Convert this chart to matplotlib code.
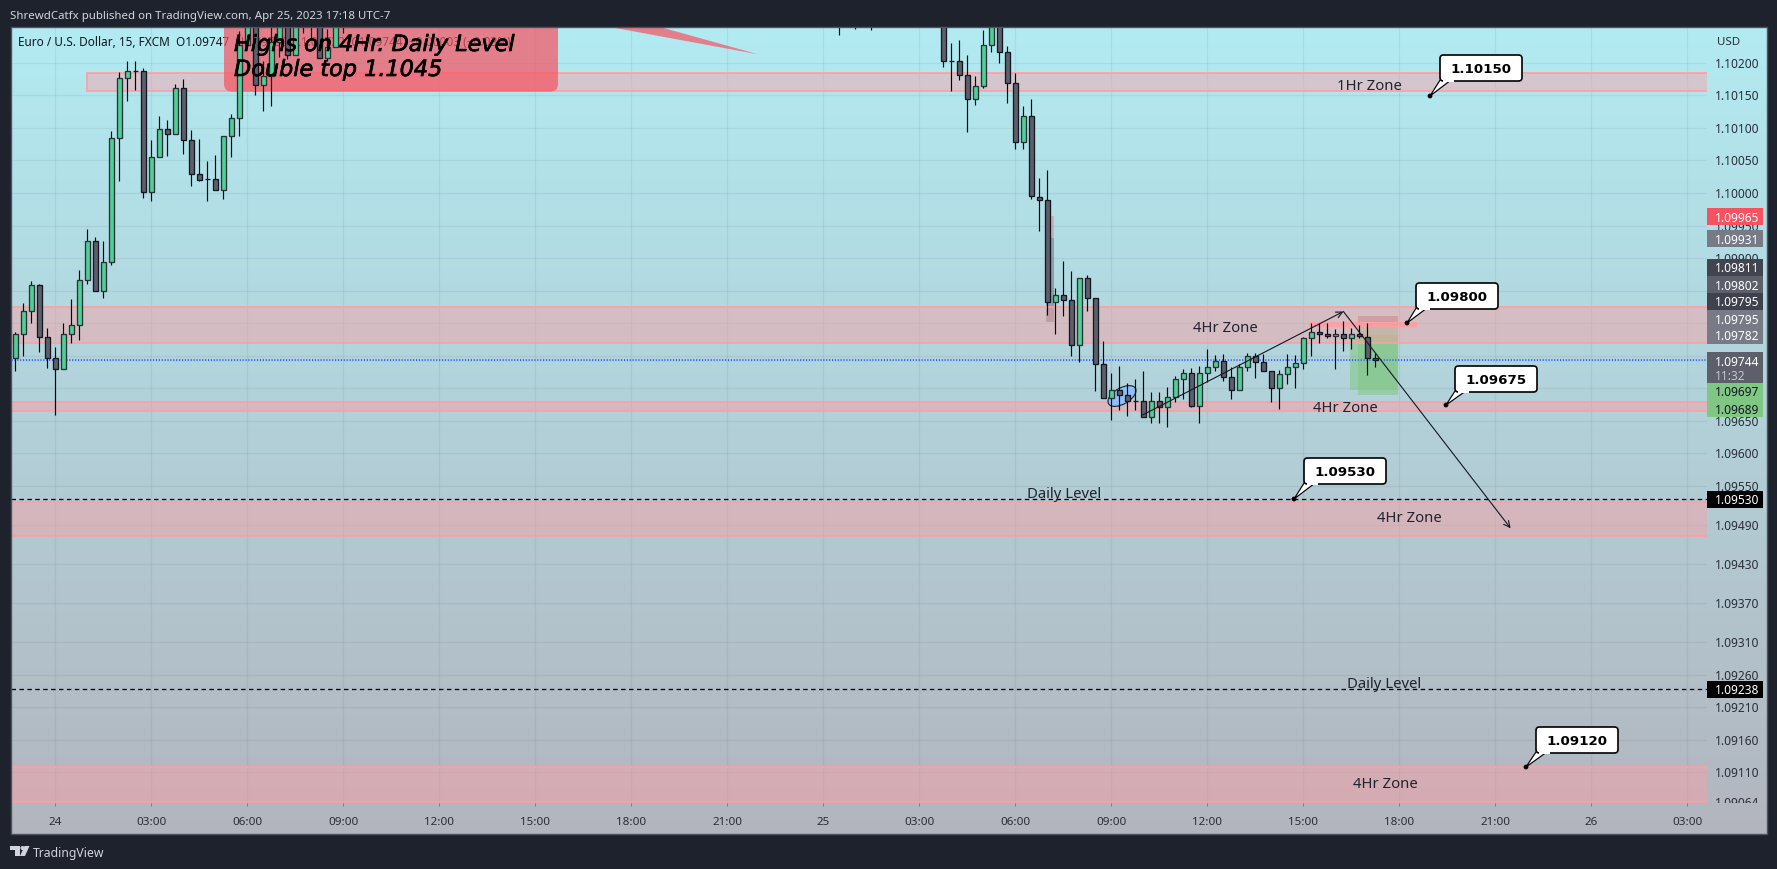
import numpy as np
import matplotlib
matplotlib.use("Agg")
import matplotlib.pyplot as plt
import matplotlib.patheffects as pe
from matplotlib.patches import Rectangle, FancyBboxPatch, Ellipse, Polygon, Circle
from matplotlib.transforms import Affine2D, Bbox

W, H = 1777, 869
plt.rcParams['font.family'] = ['Noto Sans', 'DejaVu Sans']

# ---------- data ----------
bar_index = list(range(-5, 37)) + [98, 100, 102] + list(range(111, 166))
opens = [1.09746,1.09783,1.09818,1.09858,1.09779,1.09747,1.09729,1.09784,1.09797,1.09867,
         1.09926,1.09850,1.09894,1.10084,1.10176,1.10188,1.10188,1.10001,1.10056,1.10099,
         1.10091,1.10162,1.10082,1.10029,1.10021,1.10021,1.10004,1.10087,1.10115,1.10228,
         1.10270,1.10166,1.10179,1.10232,1.10270,1.10212,1.10300,1.10270,1.10290,1.10208,
         1.10225,1.10270,
         1.10300,1.10300,1.10300,
         1.10300,1.10203,1.10203,1.10181,1.10145,1.10165,1.10228,1.10270,1.10216,1.10169,
         1.10078,1.10118,1.09994,1.09989,1.09833,1.09843,1.09835,1.09766,1.09869,1.09838,
         1.09737,1.09685,1.09698,1.09690,1.09680,1.09680,1.09656,1.09680,1.09672,1.09686,
         1.09714,1.09724,1.09673,1.09723,1.09733,1.09742,1.09717,1.09697,1.09732,1.09749,
         1.09740,1.09726,1.09700,1.09722,1.09732,1.09739,1.09777,1.09786,1.09784,1.09781,
         1.09784,1.09777,1.09783,1.09779,1.09747]
highs = [1.09786,1.09831,1.09865,1.09860,1.09792,1.09763,1.09801,1.09837,1.09882,1.09945,
         1.09932,1.09926,1.10095,1.10186,1.10203,1.10203,1.10192,1.10081,1.10119,1.10112,
         1.10168,1.10175,1.10097,1.10083,1.10049,1.10058,1.10087,1.10121,1.10249,1.10290,
         1.10290,1.10202,1.10270,1.10290,1.10290,1.10290,1.10310,1.10310,1.10310,1.10252,
         1.10290,1.10310,
         1.10330,1.10330,1.10330,
         1.10330,1.10231,1.10235,1.10212,1.10180,1.10250,1.10290,1.10290,1.10226,1.10185,
         1.10134,1.10145,1.10023,1.10035,1.09854,1.09896,1.09880,1.09869,1.09874,1.09839,
         1.09773,1.09723,1.09734,1.09708,1.09715,1.09727,1.09694,1.09694,1.09702,1.09719,
         1.09729,1.09731,1.09734,1.09760,1.09751,1.09752,1.09732,1.09738,1.09754,1.09754,
         1.09753,1.09727,1.09728,1.09753,1.09751,1.09779,1.09801,1.09800,1.09801,1.09791,
         1.09803,1.09792,1.09798,1.09800,1.09754]
lows = [1.09726,1.09750,1.09801,1.09756,1.09731,1.09659,1.09729,1.09769,1.09774,1.09860,
        1.09850,1.09838,1.09889,1.10018,1.10141,1.10158,1.09992,1.09988,1.10055,1.10057,
        1.10091,1.10060,1.10010,1.10019,1.09988,1.10004,1.09991,1.10056,1.10088,1.10226,
        1.10151,1.10126,1.10133,1.10209,1.10206,1.10212,1.10246,1.10238,1.10207,1.10203,
        1.10224,1.10246,
        1.10243,1.10252,1.10250,
        1.10194,1.10157,1.10174,1.10094,1.10135,1.10162,1.10216,1.10200,1.10139,1.10067,
        1.10068,1.09991,1.09942,1.09813,1.09784,1.09811,1.09750,1.09741,1.09818,1.09696,
        1.09685,1.09652,1.09666,1.09658,1.09666,1.09656,1.09647,1.09647,1.09641,1.09679,
        1.09683,1.09672,1.09647,1.09709,1.09727,1.09712,1.09684,1.09697,1.09727,1.09716,
        1.09726,1.09679,1.09668,1.09707,1.09701,1.09730,1.09749,1.09770,1.09778,1.09729,
        1.09758,1.09760,1.09778,1.09721,1.09733]
closes = [1.09783,1.09818,1.09858,1.09779,1.09747,1.09729,1.09784,1.09797,1.09867,1.09926,
          1.09850,1.09894,1.10084,1.10176,1.10188,1.10188,1.10001,1.10056,1.10099,1.10091,
          1.10162,1.10082,1.10029,1.10020,1.10021,1.10004,1.10087,1.10115,1.10228,1.10270,
          1.10166,1.10179,1.10232,1.10270,1.10212,1.10270,1.10270,1.10290,1.10208,1.10225,
          1.10270,1.10290,
          1.10280,1.10280,1.10280,
          1.10202,1.10202,1.10181,1.10145,1.10165,1.10228,1.10270,1.10216,1.10169,1.10078,
          1.10118,1.09996,1.09989,1.09833,1.09843,1.09835,1.09766,1.09869,1.09838,1.09737,
          1.09685,1.09698,1.09690,1.09680,1.09680,1.09656,1.09680,1.09672,1.09686,1.09714,
          1.09724,1.09673,1.09723,1.09733,1.09742,1.09717,1.09697,1.09732,1.09749,1.09740,
          1.09726,1.09700,1.09722,1.09732,1.09739,1.09777,1.09786,1.09784,1.09781,1.09784,
          1.09777,1.09783,1.09780,1.09746,1.09744]

price_ticks = [1.10200,1.10150,1.10100,1.10050,1.10000,1.09950,1.09900,1.09850,1.09800,1.09750,
               1.09700,1.09650,1.09600,1.09550,1.09490,1.09430,1.09370,1.09310,1.09260,1.09210,
               1.09160,1.09110,1.09064]
hidden_ticks = [1.09850,1.09800,1.09700]
time_ticks = [0,12,24,36,48,60,72,84,96,108,120,132,144,156,168,180,192,204]
time_labels = ['24','03:00','06:00','09:00','12:00','15:00','18:00','21:00','25',
               '03:00','06:00','09:00','12:00','15:00','18:00','21:00','26','03:00']

zone_tops    = [1.10185,1.09825,1.09679,1.09525,1.09119]
zone_bottoms = [1.10157,1.09770,1.09665,1.09473,1.09064]
zone_starts  = [4,-8,-8,-8,-8]
dashed_levels = [1.09530,1.09238]
last_price = 1.09744

scale_labels = ['1.09965','1.09931','1.09811','1.09802','1.09795','1.09795','1.09782',
                '1.09697','1.09689','1.09530','1.09238']
scale_colors = ['#f7525f','#787b86','#42444f','#5d606b','#3f414c','#787b86','#787b86',
                '#81c784','#81c784','#000000','#000000']
scale_text   = ['white','white','white','white','white','white','white',
                '#131722','#131722','white','white']
scale_tops   = [208,230,259,276,293,310,327,383,400,491,681]

callout_texts = ['1.10150','1.09800','1.09675','1.09530','1.09120']
callout_left  = [1440,1416,1455,1304,1536]
callout_top   = [55,283,366,458,727]
callout_tipx  = [1430,1407,1446,1294,1526]
callout_tipy  = [96,323,405,499,767]

zone_names = ['1Hr Zone','4Hr Zone','4Hr Zone','Daily Level','4Hr Zone','Daily Level','4Hr Zone']
zone_name_x = [1369,1225,1345,1064,1409,1384,1385]
zone_name_y = [85,326,406,493,517,682,782]

# ---------- layout ----------
fig = plt.figure(figsize=(W/100, H/100), dpi=100, facecolor='#1e222d')
T = Affine2D().scale(1, -1).translate(0, H)   # pixel coordinates from the top-left

PL, PR, PT, PB, FR, FB = 10.7, 1707, 27.3, 802.5, 1766.5, 833.5
bg = fig.add_axes([PL/W, 1-FB/H, (FR-PL)/W, (FB-PT)/H], zorder=-2)
top_c = np.array([178,235,242])/255
bot_c = np.array([178,181,190])/255
t = np.linspace(0, 1, 256)[:, None, None]
bg.imshow(top_c[None, None, :]*(1-t)+bot_c[None, None, :]*t, aspect='auto', extent=[0,1,0,1])
bg.axis('off')

ax = fig.add_axes([PL/W, 1-PB/H, (PR-PL)/W, (PB-PT)/H], zorder=0)
ax.patch.set_alpha(0)
def X(px): return (px-55.4)/8
def Y(py): return 1.10000+(193-py)*1.536e-5
ax.set_xlim(X(PL), X(PR))
ax.set_ylim(Y(PB), Y(PT))
for s in ax.spines.values():
    s.set_visible(False)

ax.set_xticks(time_ticks)
ax.set_xticklabels(time_labels, fontsize=8.4, color='#2a2e39')
for lab, txt in zip(ax.get_xticklabels(), time_labels):
    if ':' not in txt:
        lab.set_fontweight('bold')
ax.tick_params(axis='x', length=2, width=0.7, color='#787b86', pad=8.2)
ax.yaxis.tick_right()
ax.set_yticks(price_ticks)
ax.set_yticklabels(['' if p in hidden_ticks else '%.5f' % p for p in price_ticks], fontsize=8.6, color='#2a2e39')
ax.tick_params(axis='y', length=0, pad=6)
clip = Bbox.from_extents(PR, H-PB, FR, H-PT)
for tick in ax.yaxis.get_major_ticks():
    tick.label2.set_clip_box(clip)
    tick.label2.set_clip_on(True)
    tick.label2.set_va('center_baseline')
ax.grid(True, color='#2a2e39', alpha=0.07, lw=0.9, zorder=0)
ax.set_axisbelow(True)

# legend line sits under the red note
ax.text(18, 41.5, 'Euro / U.S. Dollar, 15, FXCM', transform=T, fontsize=8.5, color='#131722', va='center_baseline', zorder=1)
ax.text(176, 41.5, 'O1.09747  H1.09750  L1.09732  C1.09744  \u22120.00003 (\u22120.03%)', transform=T,
        fontsize=8.5, color='#131722', va='center_baseline', zorder=1)

# older position and current positions
ax.add_patch(Rectangle((X(1046), 1.09931), 8.3/8, 0.00034, fc='#f7525f', alpha=0.32, lw=0, zorder=1))
ax.add_patch(Rectangle((X(1046), 1.09802), 8.3/8, 0.00129, fc='#787b86', alpha=0.62, lw=0, zorder=1))
ax.add_patch(Rectangle((X(1358), 1.09795), 40/8, 0.00016, fc='#a0555f', alpha=0.42, lw=0, zorder=1))
ax.add_patch(Rectangle((X(1350), 1.09697), 48/8, 0.00085, fc='#81c784', alpha=0.55, lw=0, zorder=1))
ax.add_patch(Rectangle((X(1358), 1.09689), 40/8, 0.00106, fc='#81c784', alpha=0.55, lw=0, zorder=1))

# zones
zone_fc = (1, 0.62, 0.64, 0.45)
zone_ec = (1, 0.62, 0.64, 1)
for top, bot, st in zip(zone_tops, zone_bottoms, zone_starts):
    ax.add_patch(Rectangle((st, bot), 240-st, top-bot, fc=zone_fc, ec=zone_ec, lw=1.2, zorder=2))
ax.add_patch(Rectangle((X(1310), 1.09795), 105.7/8, 0.00007, fc=(1,0.62,0.64,0.75), ec=zone_ec, lw=0.8, zorder=2))

# levels
for lv in dashed_levels:
    ax.axhline(lv, color='black', lw=0.95, dashes=(3.4, 2.6), zorder=3)
ax.axhline(last_price+0.00001, color='#f23645', lw=0.8, dashes=(1, 1.6), zorder=3)
ax.axhline(last_price-0.00001, color='#2962ff', lw=0.8, dashes=(1, 1.6), zorder=3)

# red note
note = FancyBboxPatch((224, -10), 334, 101.7, boxstyle='round,pad=0,rounding_size=8', transform=T,
                      fc='#f7525f', alpha=0.7, ec='none', zorder=3)
ax.add_patch(note)
ax.add_patch(Polygon([(610, 27), (660, 27), (758, 54.3)], closed=True, transform=T, fc='#f7525f', alpha=0.7, ec='none', zorder=3))

# ellipse
ax.add_patch(Ellipse((1122, 396), 31, 16, angle=-30, transform=T, fc='#90bff9', ec='#2a2e39', lw=0.9, zorder=4))

# candles
x = np.array(bar_index, float)
o, h, l, c = map(np.array, (opens, highs, lows, closes))
ax.vlines(x, l, h, color='black', lw=0.85, zorder=5)
up = c > o
body_low = np.minimum(o, c)
body_h = np.abs(c-o)
ax.bar(x[up], body_h[up], bottom=body_low[up], width=0.56, color='#50cf96', edgecolor='#2a3236', linewidth=0.95, zorder=6)
ax.bar(x[~up], body_h[~up], bottom=body_low[~up], width=0.56, color='#5d606b', edgecolor='#131722', linewidth=0.95, zorder=6)

# trend arrows
for a, b in [((135.9, 1.09659), (161, 1.09818)), ((161, 1.09818), (181.9, 1.09485))]:
    ax.annotate('', xy=b, xytext=a, zorder=7,
                arrowprops=dict(arrowstyle='->', color='#131722', lw=0.8, shrinkA=0, shrinkB=0, mutation_scale=11))

# ---------- overlay in pixel coordinates ----------
def add(a):
    a.set_transform(T)
    fig.add_artist(a)
    return a

def ftext(xp, yp, s, **kw):
    kw.setdefault('va', 'center_baseline')
    kw.setdefault('transform', T)
    return fig.add_artist(plt.Text(xp, yp, s, **kw))

# note text (over the candles)
stroke = [pe.withStroke(linewidth=0.5, foreground='black')]
for yp, s in zip([43, 68], ['Highs on 4Hr. Daily Level', 'Double top 1.1045']):
    ftext(234, yp, s, fontsize=16.1, color='black', style='italic', family='DejaVu Sans', path_effects=stroke)

for name, xp, yp in zip(zone_names, zone_name_x, zone_name_y):
    ftext(xp, yp, name, fontsize=10.7, color='#20242e', ha='center')

# callouts
for s, lft, top, tx, ty in zip(callout_texts, callout_left, callout_top, callout_tipx, callout_tipy):
    add(Polygon([(tx, ty), (lft+2, top+22), (lft+15, top+22)], closed=True, fc='white', ec='black', lw=0.85, zorder=4))
    add(FancyBboxPatch((lft, top), 82, 26, boxstyle='round,pad=0,rounding_size=3.5', fc='white', ec='black', lw=1.2, zorder=4))
    add(Rectangle((lft+3, top+21), 11, 5.5, fc='white', ec='none', zorder=4))
    add(Circle((tx, ty), 2.4, fc='black', ec='none', zorder=4))
    ftext(lft+41, top+13, s, fontsize=9.6, color='black', weight='bold', ha='center', family='DejaVu Sans', zorder=5)

# price-scale labels
BXW = 55.7
for s, col, tc, top in zip(scale_labels, scale_colors, scale_text, scale_tops):
    add(Rectangle((PR, top), BXW, 17, fc=col, ec='none', zorder=2))
    ftext(1715.3, top+8.5, s, fontsize=8.6, color=tc, zorder=3)
add(Rectangle((PR, 352), BXW, 31, fc='#5d606b', ec='none', zorder=2))
ftext(1715.3, 361, '1.09744', fontsize=8.6, color='white', zorder=3)
ftext(1715.3, 375, '11:32', fontsize=8.6, color='#c4c6ce', zorder=3)
ftext(1717, 40.6, 'USD', fontsize=8.3, color='#2a2e39', zorder=3)

# panel frame, header and footer
add(Rectangle((PL, PT), FR-PL, FB-PT, fc='none', ec='#50535e', lw=1.0, zorder=2))
ftext(9.6, 15, 'ShrewdCatfx published on TradingView.com, Apr 25, 2023 17:18 UTC-7', fontsize=8.25, color='#d1d4dc')
add(Polygon([(10, 846), (20, 846), (20, 856), (15, 856), (15, 850), (10, 850)], closed=True, fc='#d1d4dc', ec='none'))
add(Circle((22.5, 848), 2, fc='#d1d4dc', ec='none'))
add(Polygon([(24.5, 846), (29.5, 846), (25, 856), (20, 856)], closed=True, fc='#d1d4dc', ec='none'))
ftext(33, 851.5, 'TradingView', fontsize=8.8, color='#d1d4dc')

fig.savefig('out.png', dpi=100, facecolor=fig.get_facecolor())
